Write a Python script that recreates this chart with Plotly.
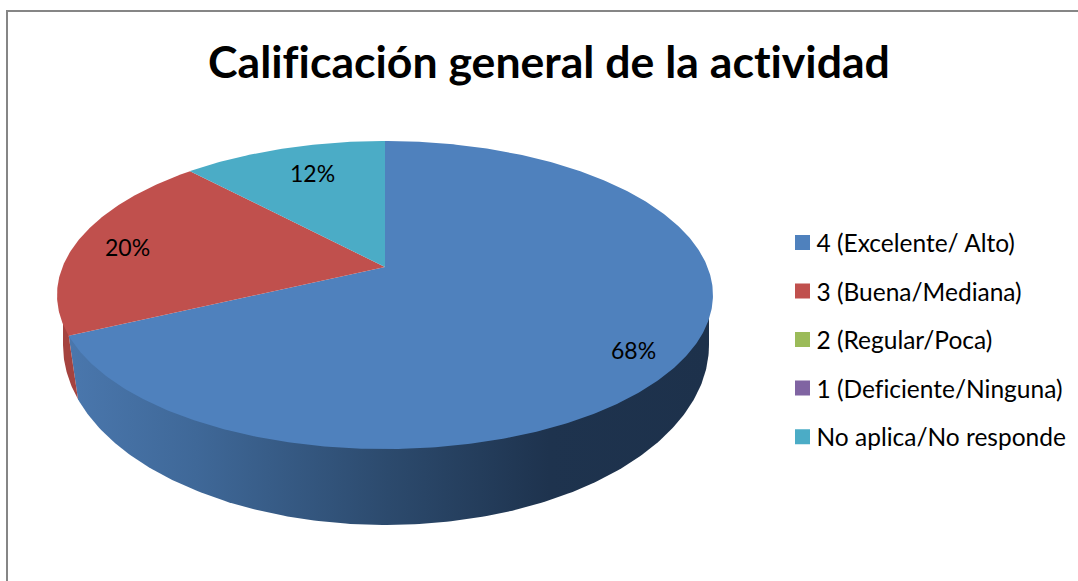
import numpy as np
import plotly.graph_objects as go

TITLE = "Calificación general de la actividad"
categories = ["4 (Excelente/ Alto)", "3 (Buena/Mediana)", "2 (Regular/Poca)",
              "1 (Deficiente/Ninguna)", "No aplica/No responde"]
values = [68, 20, 0, 0, 12]
colors = ["#4f81bd", "#c0504d", "#9bbb59", "#8064a2", "#4bacc6"]
label_pos = {0: (633, 350), 1: (127, 247), 4: (312, 173)}

FONT = "Lato"
CX, R = 385.0, 322.5
C, A, B = 0.1818, -100.4, 267.0
LCX, LCY, LRX, LRY = 386.0, 345.0, 323.0, 180.0


def project(frac):
    """Perspective projection of a point on the pie's rim (fraction clockwise from top)."""
    th = 2 * np.pi * np.asarray(frac, dtype=float)
    u, t = np.sin(th), np.cos(th)
    d = 1 + C * t
    return CX + R * u / d, (A * t + B) / d


def lower(phi):
    return LCX + LRX * np.cos(phi), LCY + LRY * np.sin(phi)


total = sum(values)
fig = go.Figure()

# Side wall: split point of the first slice
edge = values[0] / total
ex, ey = project(edge)
phi_end = np.pi - np.arccos((LCX - 78) / LRX)
px_end, py_end = lower(phi_end)

phi_blue = np.linspace(phi_end, 0, 200)
bx, by = lower(phi_blue)
side_x = [ex] + list(bx) + [LCX + LRX, LCX + LRX - 3]
side_y = [ey] + list(by) + [LCY - 28, LCY - 28]
fig.add_trace(go.Scatter(
    x=side_x, y=side_y, mode="lines", line=dict(width=0), fill="toself",
    fillgradient=dict(type="horizontal", start=68, stop=709,
                      colorscale=[[0, "#4a77ad"], [0.2, "#3f6898"], [0.5, "#2c4a6d"],
                                  [0.75, "#1e334e"], [1, "#1d314b"]]),
    showlegend=False, hoverinfo="skip"))

phi_red = np.linspace(np.pi, phi_end, 30)
rx, ry = lower(phi_red)
fig.add_trace(go.Scatter(
    x=[ex + 30, LCX - LRX] + list(rx) + [ex],
    y=[ey - 20, ey - 20] + list(ry) + [ey],
    mode="lines", line=dict(width=0), fill="toself", fillcolor="#a5433f",
    showlegend=False, hoverinfo="skip"))

# Top faces
start = 0.0
for v, c in zip(values, colors):
    if v > 0:
        fr = np.linspace(start, start + v / total, max(int(v * 6), 12))
        x, y = project(fr)
        fig.add_trace(go.Scatter(
            x=[CX] + list(x) + [CX], y=[B] + list(y) + [B], mode="lines",
            line=dict(width=0), fill="toself", fillcolor=c,
            showlegend=False, hoverinfo="skip"))
    start += v / total

# Legend entries
for name, c in zip(categories, colors):
    fig.add_trace(go.Scatter(
        x=[None], y=[None], mode="markers", name=name, legendgroup=name,
        marker=dict(symbol="square", size=15, color=c, line=dict(width=0))))

# Percent labels
for i, (lx, ly) in label_pos.items():
    fig.add_annotation(x=lx, y=ly, text=f"{round(100 * values[i] / total)}%", showarrow=False,
                       font=dict(family=FONT, size=23, color="#000000"),
                       xanchor="center", yanchor="middle")

fig.add_shape(type="rect", x0=7, y0=11, x1=1100, y1=600,
              line=dict(color="#868686", width=2), fillcolor="rgba(0,0,0,0)", layer="below")

fig.update_layout(
    width=1078, height=581, autosize=False,
    margin=dict(l=0, r=0, t=0, b=0),
    paper_bgcolor="#ffffff", plot_bgcolor="#ffffff",
    title=dict(text=f"<b>{TITLE}</b>", x=549 / 1078, xanchor="center", xref="paper",
               y=1 - 62 / 581, yanchor="middle", yref="paper",
               font=dict(family=FONT, size=44.6, color="#000000")),
    xaxis=dict(range=[0, 1078], visible=False, fixedrange=True),
    yaxis=dict(range=[581, 0], visible=False, fixedrange=True),
    legend=dict(x=782.5 / 1078, xanchor="left", y=1 - 220 / 581, yanchor="top",
                traceorder="grouped", tracegroupgap=13.7, itemwidth=30,
                font=dict(family=FONT, size=24.5, color="#000000"),
                bgcolor="rgba(0,0,0,0)", borderwidth=0),
)
post = """
document.body.style.margin = '0';
var s = document.createElement('style');
s.textContent = 'text{font-variant-ligatures:none !important;}';
document.head.appendChild(s);
document.querySelectorAll('.legendtext').forEach(function (t) {
  t.setAttribute('x', +t.getAttribute('x') - 6);
});
"""
fig.write_html("out.html", config={"displayModeBar": False}, post_script=post)
